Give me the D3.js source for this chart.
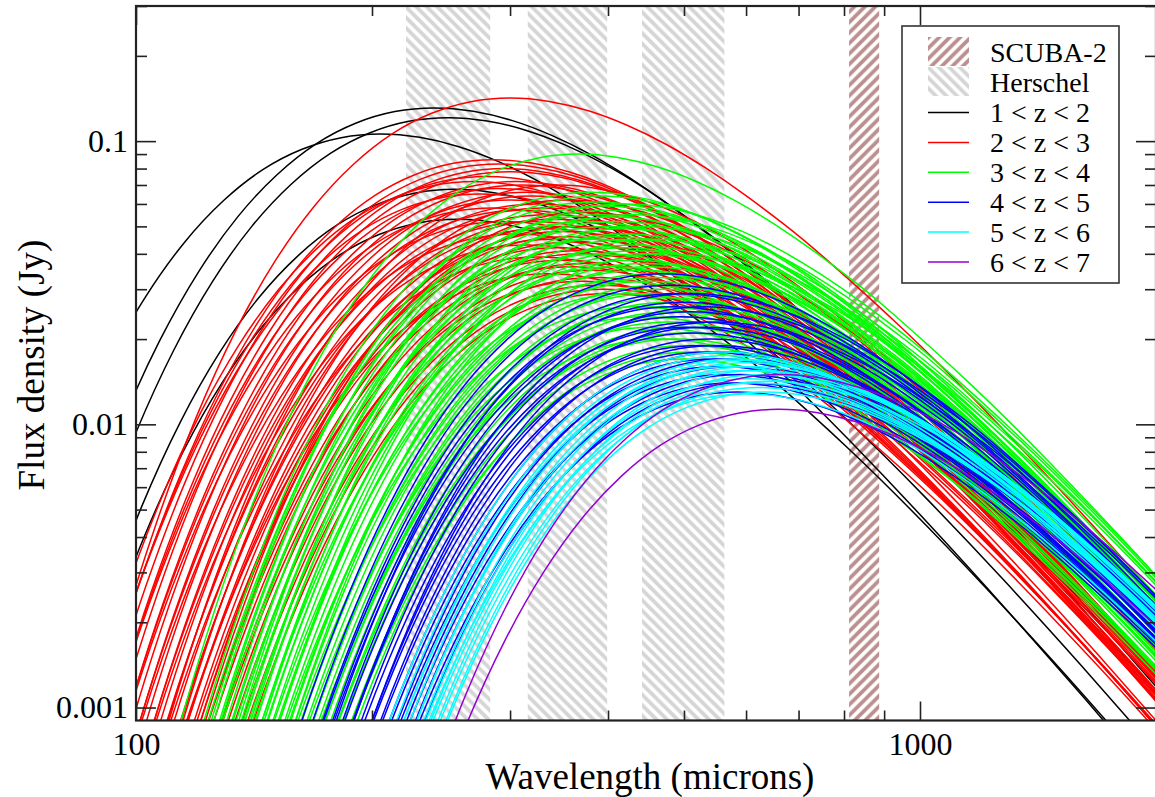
<!DOCTYPE html>
<html><head><meta charset="utf-8">
<script src="https://cdn.jsdelivr.net/npm/d3@7"></script>
<style>
body{margin:0;background:#fff}
svg{display:block}
</style>
</head><body>
<svg id="chart" width="1155" height="797"></svg>
<script>
// ---------- data ----------
const xDomain = [100, 2000];
const yDomain = [0.0009, 0.3];
const xMajorTicks = [100, 1000];
const xMinorTicks = [200, 300, 400, 500, 600, 700, 800, 900, 2000];
const yMajorTicks = [0.001, 0.01, 0.1];
const yMinorTicks = [0.002,0.003,0.004,0.005,0.006,0.007,0.008,0.009,
                     0.02,0.03,0.04,0.05,0.06,0.07,0.08,0.09,0.2,0.3];
const herschelBands = [[221, 283], [316, 399], [442, 563]];
const scubaBands = [[812, 887]];

// SED shape: log10 offset from the peak
// (wavelength in dex relative to peak wavelength, flux in dex relative to peak flux)
const shapeDex    = [-0.6,-0.55,-0.5,-0.45,-0.4,-0.35,-0.3,-0.25,-0.2,-0.15,-0.1,-0.05,0,
                     0.05,0.1,0.15,0.2,0.25,0.3,0.35,0.4,0.5,0.6,0.7,0.8,0.9,1.0,1.1];
const shapeOffset = [-3.061,-2.452,-1.931,-1.492,-1.125,-0.822,-0.577,-0.383,-0.235,-0.126,-0.054,-0.013,0,
                     -0.012,-0.045,-0.097,-0.165,-0.248,-0.343,-0.447,-0.562,-0.813,-1.087,-1.379,-1.684,-1.999,-2.322,-2.651];

// each curve: [peak wavelength (microns), peak flux density (Jy)]
const peaksZ12 = [[205,0.106],[240,0.131],[250,0.121],[255,0.0676],[257,0.053]];
const peaksZ23 = [[300,0.142],[285,0.086],[290,0.083],[295,0.080],[300,0.078],[280,0.075],[305,0.072],
  [310,0.070],[290,0.068],[315,0.066],[320,0.064],[300,0.062],[325,0.060],[330,0.058],[310,0.057],
  [335,0.055],[340,0.053],[320,0.052],[345,0.050],[330,0.049],[350,0.048],[355,0.046],[340,0.045],
  [360,0.044],[345,0.042],[365,0.041],[370,0.040],[350,0.038],[375,0.037],[360,0.036],[380,0.035],
  [385,0.033],[370,0.032],[390,0.031],[395,0.030],[400,0.029],[365,0.050],[375,0.056],[270,0.072],
  [275,0.065],[285,0.058],[295,0.052],[305,0.047],[315,0.043],[325,0.039],[335,0.034],[355,0.062],[345,0.070]];
const peaksZ34 = [[367,0.090],[380,0.066],[390,0.064],[385,0.061],[395,0.059],[400,0.057],[390,0.055],
  [405,0.054],[410,0.052],[400,0.050],[415,0.049],[420,0.047],[410,0.046],[425,0.045],[430,0.043],
  [420,0.042],[435,0.041],[440,0.040],[430,0.038],[445,0.037],[450,0.036],[440,0.035],[455,0.034],
  [460,0.033],[450,0.032],[465,0.031],[470,0.030],[460,0.029],[475,0.028],[480,0.027],[470,0.026],
  [485,0.025],[490,0.024],[480,0.023],[495,0.022],[500,0.021],[490,0.020],[505,0.019],[510,0.018],
  [500,0.017],[375,0.052],[385,0.045],[395,0.040],[405,0.036],[415,0.032],[425,0.029],[435,0.026],
  [445,0.024],[455,0.022],[465,0.020],[420,0.060],[430,0.055],[440,0.050],[455,0.045],[470,0.040]];
const peaksZ45 = [[470,0.034],[480,0.031],[490,0.029],[500,0.027],[485,0.026],[510,0.025],[495,0.024],
  [520,0.023],[505,0.022],[530,0.022],[515,0.021],[540,0.020],[525,0.019],[550,0.019],[535,0.018],
  [560,0.018],[545,0.017],[570,0.017],[555,0.016],[580,0.016],[565,0.015],[590,0.015],[575,0.014],
  [600,0.014],[585,0.013],[510,0.029],[530,0.026],[550,0.023]];
const peaksZ56 = [[560,0.018],[570,0.0175],[580,0.017],[575,0.016],[590,0.0168],[600,0.0165],[595,0.0155],
  [610,0.016],[620,0.0155],[605,0.0145],[630,0.015],[615,0.014],[625,0.0135],[640,0.0142],[635,0.013],[600,0.0128]];
const peaksZ67 = [[660,0.0113],[663,0.015]];

const groupLabels = ["1 < z < 2","2 < z < 3","3 < z < 4","4 < z < 5","5 < z < 6","6 < z < 7"];
const groupColors = ["#000000","#ff0000","#00ff00","#0000ff","#00ffff","#9400d3"];
const groupPeaks  = [peaksZ12, peaksZ23, peaksZ34, peaksZ45, peaksZ56, peaksZ67];

// ---------- layout ----------
const FONT = "'Liberation Serif', 'Times New Roman', Times, 'DejaVu Serif', serif";
const svg = d3.select("#chart").style("font-family", FONT);
const L = 136, R = 1156, T = 6, B = 720.5;
const x = d3.scaleLog().domain(xDomain).range([L, R]);
const y = d3.scaleLog().domain(yDomain).range([B, T]);

const defs = svg.append("defs");
defs.append("clipPath").attr("id","plotClip").append("rect")
  .attr("x",L).attr("y",T).attr("width",R-L).attr("height",B-T);
function hatch(id, color, back) {
  const p = defs.append("pattern").attr("id",id).attr("patternUnits","userSpaceOnUse")
    .attr("width",10.5).attr("height",10.5);
  p.append("rect").attr("width",10.5).attr("height",10.5).attr("fill","#fff");
  p.append("path").attr("d", back ? "M0,0L10.5,10.5M-5.25,5.25L5.25,15.75M5.25,-5.25L15.75,5.25"
                                  : "M0,10.5L10.5,0M-5.25,5.25L5.25,-5.25M5.25,15.75L15.75,5.25")
    .attr("stroke",color).attr("stroke-width",3.8).attr("fill","none");
}
hatch("herschelHatch","#d5d5d5",true);
hatch("scubaHatch","#bc8f8f",false);

const plot = svg.append("g").attr("clip-path","url(#plotClip)");

plot.selectAll("rect.hb").data(herschelBands).join("rect").attr("class","hb")
  .attr("x",d=>x(d[0])).attr("width",d=>x(d[1])-x(d[0]))
  .attr("y",T).attr("height",B-T).attr("fill","url(#herschelHatch)");
plot.selectAll("rect.sb").data(scubaBands).join("rect").attr("class","sb")
  .attr("x",d=>x(d[0])).attr("width",d=>x(d[1])-x(d[0]))
  .attr("y",T).attr("height",B-T).attr("fill","url(#scubaHatch)");

const line = d3.line().x(d=>x(d[0])).y(d=>y(d[1])).curve(d3.curveNatural);
function curvePoints(pk){
  return shapeDex.map((dd,i)=>[pk[0]*Math.pow(10,dd), pk[1]*Math.pow(10,shapeOffset[i])]);
}
groupPeaks.forEach((arr,gi)=>{
  plot.append("g").selectAll("path").data(arr).join("path")
    .attr("d",pk=>line(curvePoints(pk)))
    .attr("fill","none").attr("stroke",groupColors[gi]).attr("stroke-width",1.5);
});

// ---------- axes (ticks inside on all four sides) ----------
const axisColor = "#222";
function styleAxis(g){
  g.attr("font-family", null).attr("font-size", null);
  g.select(".domain").remove();
  g.selectAll("line").attr("stroke",axisColor).attr("stroke-width",1.6);
  g.selectAll("text").style("font-family", FONT).style("font-size","32px").attr("fill","#000");
}
svg.append("g").attr("transform",`translate(0,${B})`)
  .call(d3.axisBottom(x).tickValues(xMajorTicks).tickSize(-19).tickPadding(12).tickFormat(d3.format("d")))
  .call(styleAxis);
svg.append("g").attr("transform",`translate(0,${B})`)
  .call(d3.axisBottom(x).tickValues(xMinorTicks).tickSize(-10).tickFormat("")).call(styleAxis);
svg.append("g").attr("transform",`translate(0,${T})`)
  .call(d3.axisTop(x).tickValues(xMajorTicks).tickSize(-19).tickFormat("")).call(styleAxis);
svg.append("g").attr("transform",`translate(0,${T})`)
  .call(d3.axisTop(x).tickValues(xMinorTicks).tickSize(-10).tickFormat("")).call(styleAxis);
svg.append("g").attr("transform",`translate(${L},0)`)
  .call(d3.axisLeft(y).tickValues(yMajorTicks).tickSize(-20).tickPadding(8).tickFormat(d=>String(d)))
  .call(styleAxis);
svg.append("g").attr("transform",`translate(${L},0)`)
  .call(d3.axisLeft(y).tickValues(yMinorTicks).tickSize(-11).tickFormat("")).call(styleAxis);
svg.append("g").attr("transform",`translate(${R},0)`)
  .call(d3.axisRight(y).tickValues(yMajorTicks).tickSize(-20).tickFormat("")).call(styleAxis);
svg.append("g").attr("transform",`translate(${R},0)`)
  .call(d3.axisRight(y).tickValues(yMinorTicks).tickSize(-11).tickFormat("")).call(styleAxis);

svg.append("rect").attr("x",L).attr("y",T).attr("width",R-L).attr("height",B-T)
  .attr("fill","none").attr("stroke",axisColor).attr("stroke-width",2.2);

// titles
svg.append("text").attr("x",650).attr("y",789).attr("text-anchor","middle")
  .style("font-family",FONT).style("font-size","37px").text("Wavelength (microns)");
svg.append("text").attr("transform","translate(44,365) rotate(-90)").attr("text-anchor","middle")
  .style("font-family",FONT).style("font-size","37px").text("Flux density (Jy)");

// ---------- legend ----------
const lg = svg.append("g");
lg.append("rect").attr("x",902).attr("y",26).attr("width",217).attr("height",257)
  .attr("fill","#fff").attr("stroke","#333").attr("stroke-width",1.6);
const bandLegend = [["SCUBA-2","url(#scubaHatch)"],["Herschel","url(#herschelHatch)"]];
bandLegend.forEach((b,i)=>{
  const cy = 51.5 + i*30;
  lg.append("rect").attr("x",928).attr("y",cy-14.5).attr("width",41).attr("height",29).attr("fill",b[1]);
  lg.append("text").attr("x",990).attr("y",cy+10).style("font-family",FONT).style("font-size","28px").text(b[0]);
});
groupLabels.forEach((lab,i)=>{
  const cy = 112.5 + i*29.9;
  lg.append("line").attr("x1",928).attr("x2",969).attr("y1",cy).attr("y2",cy)
    .attr("stroke",groupColors[i]).attr("stroke-width",1.5);
  lg.append("text").attr("x",990).attr("y",cy+9.5).style("font-family",FONT).style("font-size","28px").text(lab);
});
</script>
</body></html>
